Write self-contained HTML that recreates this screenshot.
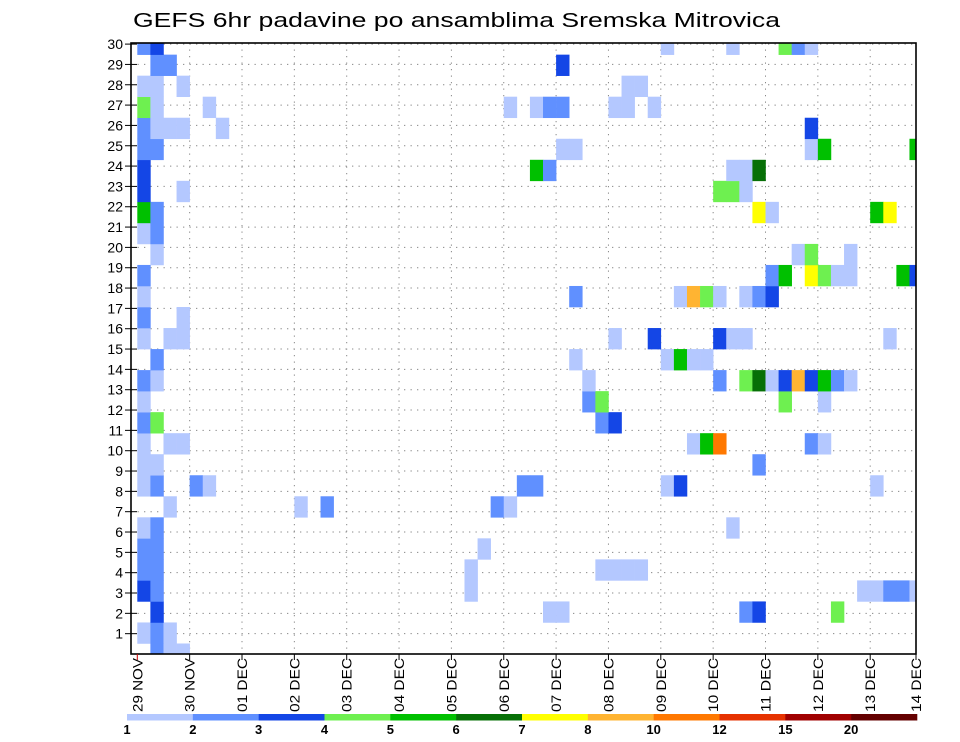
<!DOCTYPE html>
<html><head><meta charset="utf-8"><style>
html,body{margin:0;padding:0;background:#fff;}
svg{display:block;font-family:"Liberation Sans","DejaVu Sans",sans-serif;}
</style></head><body>
<svg id="chart" width="960" height="742" viewBox="0 0 960 742" xmlns="http://www.w3.org/2000/svg">
<text x="133" y="27" font-size="20" textLength="647" lengthAdjust="spacingAndGlyphs" fill="#000">GEFS 6hr padavine po ansamblima Sremska Mitrovica</text>
<defs><clipPath id="plotclip"><rect x="131" y="43" width="785" height="611"/></clipPath></defs>
<g id="grid"></g>
<g id="cells" clip-path="url(#plotclip)"></g>
<rect x="131" y="43" width="785" height="611" fill="none" stroke="#000" stroke-width="1.6"/>
<g id="yaxis"></g>
<g id="xaxis"></g>
<g id="colorbar"></g>
</svg>
<script>
const dateLabels = ["29 NOV","30 NOV","01 DEC","02 DEC","03 DEC","04 DEC","05 DEC","06 DEC","07 DEC","08 DEC","09 DEC","10 DEC","11 DEC","12 DEC","13 DEC","14 DEC"];
const memberLabels = [1,2,3,4,5,6,7,8,9,10,11,12,13,14,15,16,17,18,19,20,21,22,23,24,25,26,27,28,29,30];
const levelThresholds = [1,2,3,4,5,6,7,8,10,12,15,20];
const levelColors = ["#b4c8ff","#6090ff","#1446e6","#6ef050","#00c000","#077007","#ffff00","#ffb432","#ff7800","#e63200","#a00000","#640000"];
// memberSteps[r] = 6-hourly step indices with precip for ensemble row r (r=0 bottom)
const memberSteps = [
 [1,2,3],
 [0,1,2],
 [1,31,32,46,47,53],
 [0,1,25,55,56,57,58,59],
 [0,1,25,35,36,37,38],
 [0,1,26],
 [0,1,45],
 [2,12,14,27,28],
 [0,1,4,5,29,30,40,41,56],
 [0,1,47],
 [0,2,3,42,43,44,51,52],
 [0,1,35,36],
 [0,34,35,49,52],
 [0,1,34,44,46,47,48,49,50,51,52,53,54],
 [1,33,40,41,42,43],
 [0,2,3,36,39,44,45,46,57],
 [0,3],
 [0,33,41,42,43,44,46,47,48],
 [0,48,49,51,52,53,54,58,59],
 [1,50,51,54],
 [0,1],
 [0,1,47,48,56,57],
 [0,3,44,45,46],
 [0,30,31,45,46,47],
 [0,1,32,33,51,52,59],
 [0,1,2,3,6,51],
 [0,1,5,28,30,31,32,36,37,39],
 [0,1,3,37,38],
 [1,2,32],
 [0,1,40,45,49,50,51]
];
const memberPrecip = [
 [2.5,1.5,1.5],
 [1.5,2.5,1.5],
 [3.5,1.5,1.5,2.5,3.5,4.5],
 [3.5,2.5,1.5,1.5,1.5,2.5,2.5,1.5],
 [2.5,2.5,1.5,1.5,1.5,1.5,1.5],
 [2.5,2.5,1.5],
 [1.5,2.5,1.5],
 [1.5,1.5,2.5,2.5,1.5],
 [1.5,2.5,2.5,1.5,2.5,2.5,1.5,3.5,1.5],
 [1.5,1.5,2.5],
 [1.5,1.5,1.5,1.5,5.5,11,2.5,1.5],
 [2.5,4.5,2.5,3.5],
 [1.5,2.5,4.5,4.5,1.5],
 [2.5,1.5,1.5,2.5,4.5,6.5,1.5,3.5,9,3.5,5.5,2.5,1.5],
 [2.5,1.5,1.5,5.5,1.5,1.5],
 [1.5,1.5,1.5,1.5,3.5,3.5,1.5,1.5,1.5],
 [2.5,1.5],
 [1.5,2.5,1.5,9,4.5,1.5,1.5,2.5,3.5],
 [2.5,2.5,5.5,7.5,4.5,1.5,1.5,5.5,3.5],
 [1.5,1.5,4.5,1.5],
 [1.5,2.5],
 [5.5,2.5,7.5,1.5,5.5,7.5],
 [3.5,1.5,4.5,4.5,1.5],
 [3.5,5.5,2.5,1.5,1.5,6.5],
 [2.5,2.5,1.5,1.5,1.5,5.5,5.5],
 [2.5,1.5,1.5,1.5,1.5,3.5],
 [4.5,1.5,1.5,1.5,1.5,2.5,2.5,1.5,1.5,1.5],
 [1.5,1.5,1.5,1.5,1.5],
 [2.5,2.5,3.5],
 [2.5,3.5,1.5,1.5,4.5,2.5,1.5]
];

const NS = "http://www.w3.org/2000/svg";
const X0 = 137.3, DAY = 52.35, STEP = DAY / 4;
const Y0 = 654, CELLH = 21.03, LABH = 20.33;
function xDay(d) { return X0 + d * DAY; }
function xStep(s) { return X0 + s * STEP; }
function yCell(r) { return Y0 - r * CELLH; }
function yLabel(k) { return Y0 - k * LABH; }
function colorFor(v) {
  let idx = -1;
  for (let i = 0; i < levelThresholds.length; i++) if (v >= levelThresholds[i]) idx = i;
  return idx < 0 ? null : levelColors[idx];
}
function mk(tag, attrs, parent) {
  const e = document.createElementNS(NS, tag);
  for (const k in attrs) e.setAttribute(k, attrs[k]);
  parent.appendChild(e);
  return e;
}
const grid = document.getElementById('grid');
const cells = document.getElementById('cells');
const yaxis = document.getElementById('yaxis');
const xaxis = document.getElementById('xaxis');
const cbar = document.getElementById('colorbar');

// horizontal gridlines + y labels
memberLabels.forEach(k => {
  const y = yLabel(k);
  const gl = mk('line', {x1: 131, x2: 916, y1: y, y2: y, stroke: '#888', 'stroke-width': 1, 'stroke-dasharray': '1.3,5.2'}, grid);
  
  
  const tk = mk('line', {x1: 125, x2: 137, y1: y, y2: y, stroke: '#000', 'stroke-width': 1}, yaxis);
  
  
  const t = mk('text', {x: 123, y: y + 5, 'font-size': 14, 'text-anchor': 'end', fill: '#000'}, yaxis);
  t.textContent = k;
  
  
});
// vertical gridlines + x labels
dateLabels.forEach((lab, d) => {
  const x = xDay(d);
  if (d > 0 && x < 915) {
    const gl = mk('line', {x1: x, x2: x, y1: 43, y2: 654, stroke: '#888', 'stroke-width': 1, 'stroke-dasharray': '1.3,5.2'}, grid);
    
    
  }
  const tx = Math.min(x, 916);
  const tk = mk('line', {x1: tx, x2: tx, y1: 654, y2: 660, stroke: d === 0 ? '#c00' : '#000', 'stroke-width': 1}, xaxis);
  
  
  const t = mk('text', {x: 0, y: 0, 'font-size': 14, fill: '#000', textLength: 54, lengthAdjust: 'spacingAndGlyphs',
    transform: 'translate(' + (tx + 5) + ',712) rotate(-90)'}, xaxis);
  t.textContent = lab.replace(' ', '  ');
  
  
});
// heatmap cells
memberSteps.forEach((steps, r) => {
  steps.forEach((s, j) => {
    const c = colorFor(memberPrecip[r][j]);
    if (!c) return;
    const rc = mk('rect', {x: xStep(s), y: yCell(r) - CELLH / 2, width: STEP + 0.3, height: CELLH + 0.3, fill: c}, cells);
    
    
  });
});
// colorbar
const CB0 = 127, CBW = (917 - 127) / levelColors.length;
levelColors.forEach((col, i) => {
  const rc = mk('rect', {x: CB0 + i * CBW, y: 714, width: CBW + 0.3, height: 6.5, fill: col}, cbar);
  
  
});
levelThresholds.forEach((v, i) => {
  const t = mk('text', {x: CB0 + i * CBW, y: 734, 'font-size': 13, 'font-weight': 'bold', 'text-anchor': 'middle', fill: '#000'}, cbar);
  t.textContent = v;
  
  
});
</script>
</body></html>
